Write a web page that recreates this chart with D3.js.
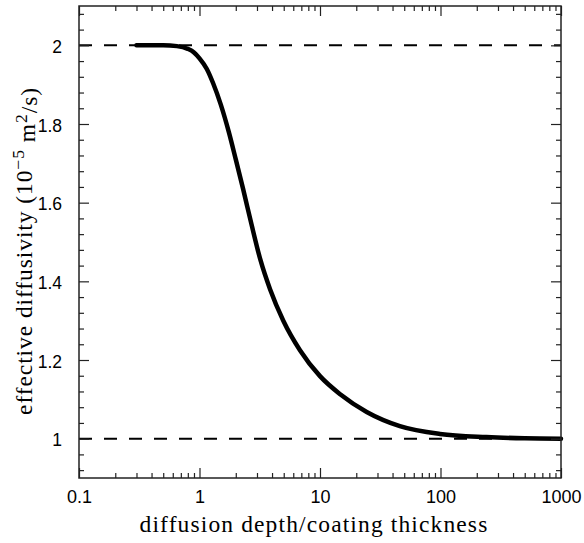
<!DOCTYPE html>
<html>
<head>
<meta charset="utf-8">
<script src="https://cdn.jsdelivr.net/npm/d3@7"></script>
<style>
  html, body { margin: 0; padding: 0; background: #fff; }
  svg { display: block; }
</style>
</head>
<body>
<svg id="chart" width="584" height="543"></svg>
<script>
// ---- data ----
const ratio = [0.30, 0.50, 0.65, 0.80, 0.90, 1.00, 1.15, 1.30, 1.50, 1.75, 2.00, 2.30, 2.70, 3.20, 3.85, 4.96, 6.82, 10, 14.7, 24.4, 46, 99, 240, 500, 1000];
const diffusivity = [2.000, 2.000, 1.998, 1.991, 1.982, 1.967, 1.940, 1.903, 1.850, 1.780, 1.710, 1.635, 1.545, 1.455, 1.380, 1.300, 1.225, 1.159, 1.113, 1.068, 1.032, 1.012, 1.004, 1.001, 1.000];
const refLevels = [2, 1];
const xTickValues = [0.1, 1, 10, 100, 1000];
const xTickLabels = ["0.1", "1", "10", "100", "1000"];
const yTickValues = [1, 1.2, 1.4, 1.6, 1.8, 2];
const yTickLabels = ["1", "1.2", "1.4", "1.6", "1.8", "2"];
const xDomain = [0.1, 1000];
const yDomain = [0.9, 2.1];
const xTitle = "diffusion depth/coating thickness";

// ---- layout ----
const svg = d3.select("#chart");
const L = 79, R = 561, T = 6, B = 478;
const x = d3.scaleLog().domain(xDomain).range([L, R]);
const y = d3.scaleLinear().domain(yDomain).range([B, T]);

const tickFont = "'Liberation Sans', Arial, Helvetica, sans-serif";
const titleFont = "'Liberation Serif', 'Times New Roman', serif";

// minor ticks
const xMinor = [];
for (let e = -1; e < 3; e++) for (let m = 2; m <= 9; m++) xMinor.push(m * Math.pow(10, e));
const yMinor = d3.range(0.92, 2.1, 0.04).map(v => +v.toFixed(2)).filter(v => !yTickValues.some(t => Math.abs(t - v) < 1e-6));

const g = svg.append("g");

// reference dashed lines
g.selectAll("line.ref").data(refLevels).enter().append("line")
  .attr("x1", L).attr("x2", R)
  .attr("y1", d => y(d)).attr("y2", d => y(d))
  .attr("stroke", "#000").attr("stroke-width", 2)
  .attr("stroke-dasharray", "13,12");

// curve
const line = d3.line().x((d, i) => x(ratio[i])).y(d => y(d)).curve(d3.curveMonotoneX);
g.append("path").datum(diffusivity)
  .attr("d", line)
  .attr("fill", "none").attr("stroke", "#000").attr("stroke-width", 4.5)
  .attr("stroke-linecap", "round").attr("stroke-linejoin", "round");

// axes with mirrored ticks
const axCol = "#222";
function styleAxis(sel) {
  sel.select(".domain").remove();
  sel.selectAll(".tick line").attr("stroke", axCol).attr("stroke-width", 1.2);
}
// bottom major
svg.append("g").attr("transform", `translate(0,${B})`)
  .call(d3.axisBottom(x).tickValues(xTickValues).tickSize(-10).tickPadding(12)
    .tickFormat((d, i) => xTickLabels[i]))
  .call(styleAxis)
  .call(s => s.selectAll("text").attr("font-family", tickFont).attr("font-size", 18).attr("fill", "#000"));
svg.append("g").attr("transform", `translate(0,${B})`)
  .call(d3.axisBottom(x).tickValues(xMinor).tickSize(-5).tickFormat(""))
  .call(styleAxis);
// top
svg.append("g").attr("transform", `translate(0,${T})`)
  .call(d3.axisTop(x).tickValues(xTickValues).tickSize(-10).tickFormat(""))
  .call(styleAxis);
svg.append("g").attr("transform", `translate(0,${T})`)
  .call(d3.axisTop(x).tickValues(xMinor).tickSize(-5).tickFormat(""))
  .call(styleAxis);
// left
svg.append("g").attr("transform", `translate(${L},0)`)
  .call(d3.axisLeft(y).tickValues(yTickValues).tickSize(-10).tickPadding(17)
    .tickFormat((d, i) => yTickLabels[i]))
  .call(styleAxis)
  .call(s => s.selectAll("text").attr("font-family", tickFont).attr("font-size", 17.5).attr("fill", "#000").attr("dy", "0.4em"));
svg.append("g").attr("transform", `translate(${L},0)`)
  .call(d3.axisLeft(y).tickValues(yMinor).tickSize(-5).tickFormat(""))
  .call(styleAxis);
// right
svg.append("g").attr("transform", `translate(${R},0)`)
  .call(d3.axisRight(y).tickValues(yTickValues).tickSize(-10).tickFormat(""))
  .call(styleAxis);
svg.append("g").attr("transform", `translate(${R},0)`)
  .call(d3.axisRight(y).tickValues(yMinor).tickSize(-5).tickFormat(""))
  .call(styleAxis);

// frame
svg.append("rect").attr("x", L).attr("y", T).attr("width", R - L).attr("height", B - T)
  .attr("fill", "none").attr("stroke", axCol).attr("stroke-width", 1.5);

// spread a text to a target width with letter-spacing
function fitSpacing(sel, target) {
  const node = sel.node();
  const w = node.getBBox().width;
  const n = node.textContent.length;
  if (n > 1) sel.attr("letter-spacing", Math.max(0, (target - w) / n).toFixed(2));
}

// x title
const xt = svg.append("text")
  .attr("x", 314).attr("y", 532)
  .attr("text-anchor", "middle")
  .attr("font-family", titleFont).attr("font-size", 23.5).attr("fill", "#000")
  .text(xTitle);
fitSpacing(xt, 349);

// y title with superscripts
const yt = svg.append("text")
  .attr("transform", `translate(32,251) rotate(-90)`)
  .attr("text-anchor", "middle")
  .attr("font-family", titleFont).attr("font-size", 23.5).attr("fill", "#000");
yt.append("tspan").text("effective diffusivity (10");
yt.append("tspan").attr("dy", "-0.45em").attr("font-size", "0.75em").text("\u22125");
yt.append("tspan").attr("dy", "0.45em").text("\u00a0m");
yt.append("tspan").attr("dy", "-0.45em").attr("font-size", "0.75em").text("2");
yt.append("tspan").attr("dy", "0.45em").text("/s)");
fitSpacing(yt, 328);
</script>
</body>
</html>
